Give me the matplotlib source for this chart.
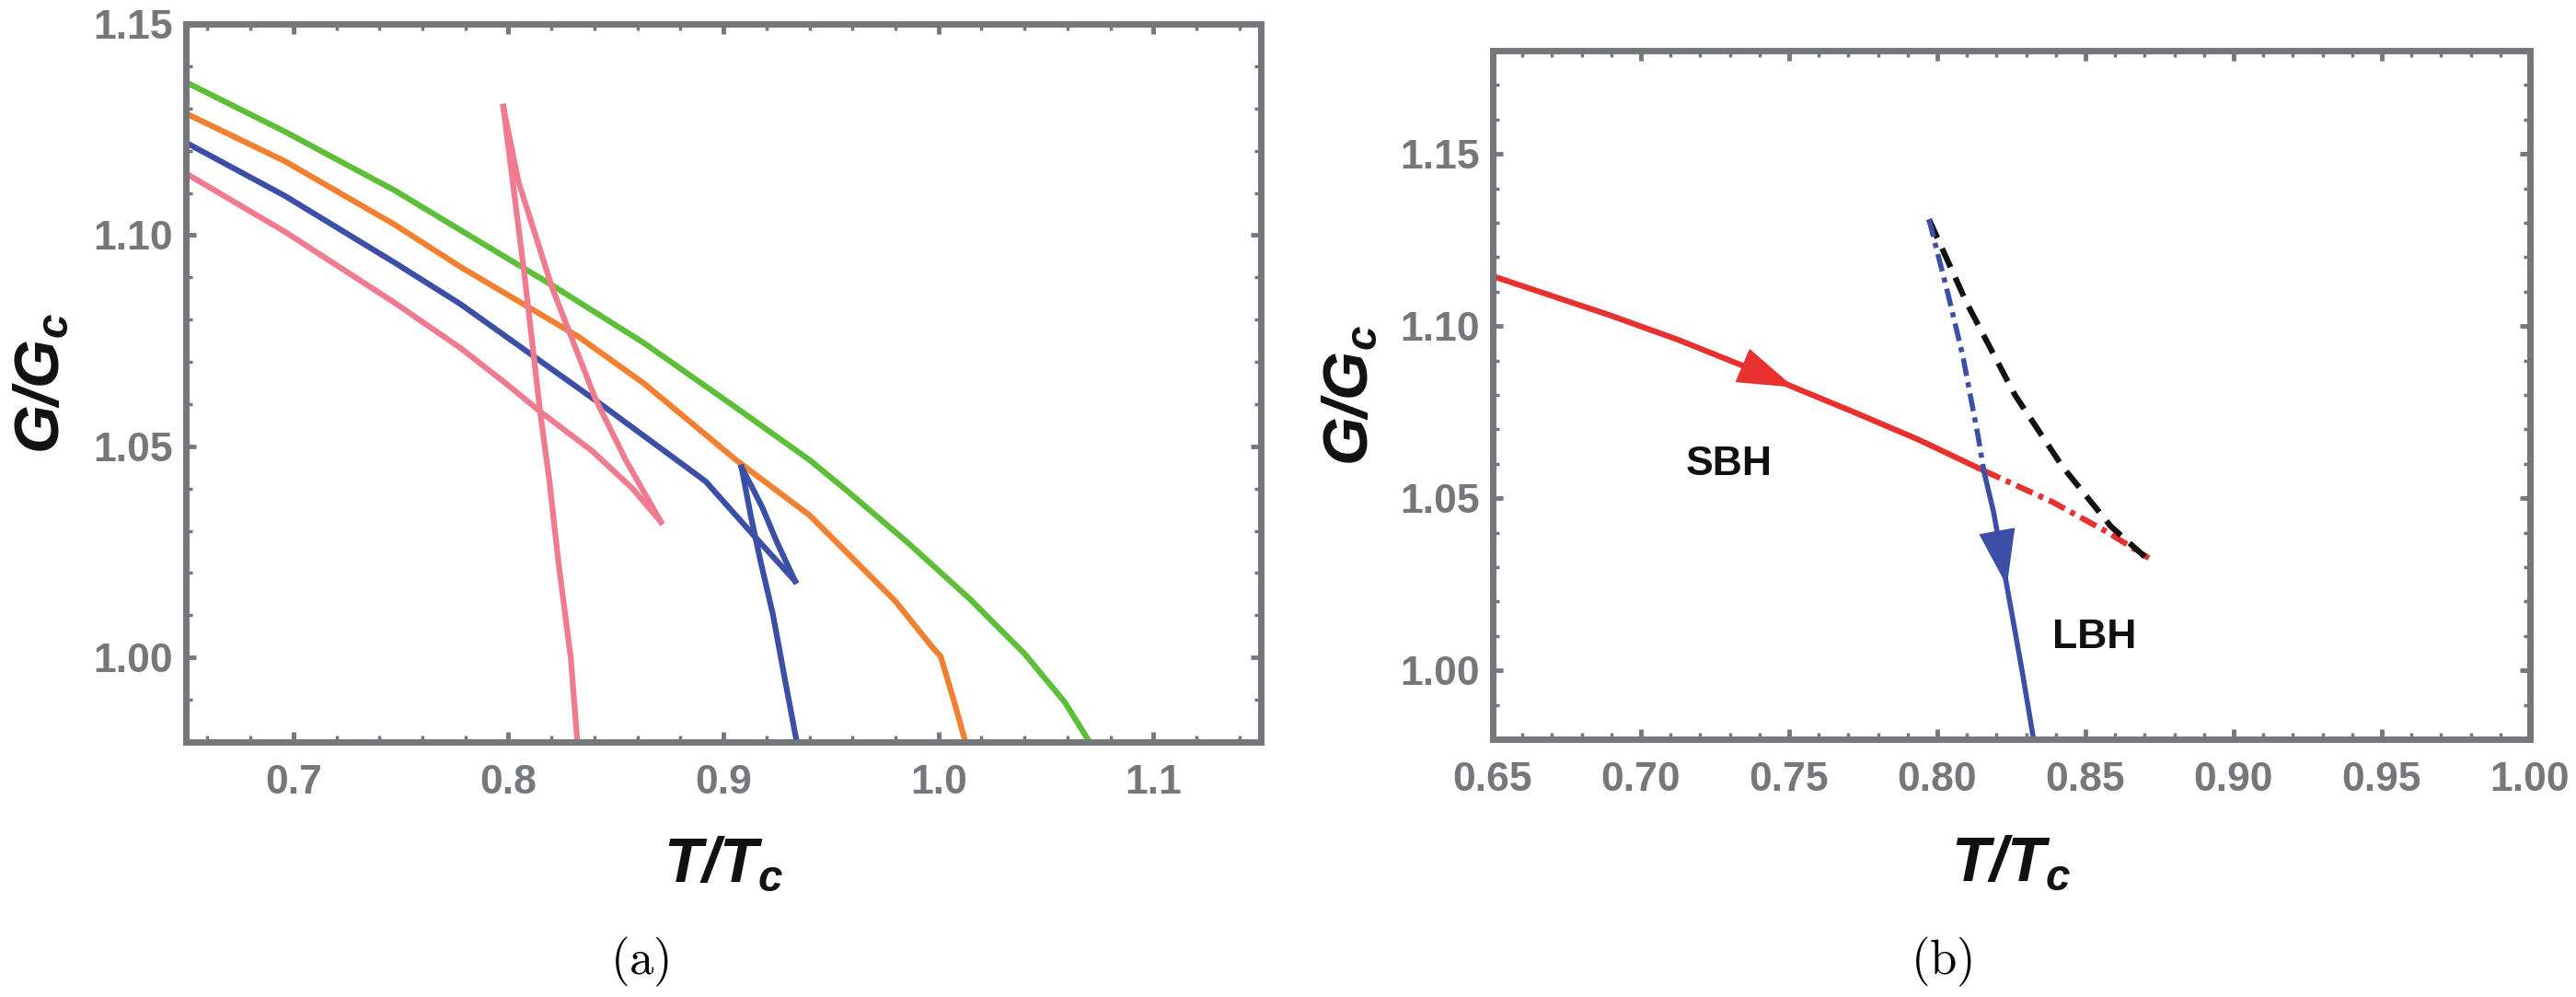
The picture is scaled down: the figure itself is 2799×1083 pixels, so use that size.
import matplotlib
matplotlib.use("Agg")
import matplotlib.pyplot as plt
from matplotlib.ticker import MultipleLocator, FormatStrFormatter

plt.rcParams['font.family'] = ['Liberation Sans', 'DejaVu Sans']
plt.rcParams['mathtext.fontset'] = 'custom'
plt.rcParams['mathtext.rm'] = 'Liberation Sans'
plt.rcParams['mathtext.it'] = 'Liberation Sans:italic'
plt.rcParams['mathtext.bf'] = 'Liberation Sans:bold'
plt.rcParams['mathtext.bfit'] = 'Liberation Sans:italic:bold'
plt.rcParams['lines.scale_dashes'] = False

# ---- panel (a) data ----
green_T = [0.650, 0.696, 0.747, 0.7776, 0.8204, 0.8632, 0.906, 0.9402, 0.9574, 0.9859, 1.0143, 1.040, 1.0588, 1.0695]
green_G = [1.1362, 1.1245, 1.1106, 1.1012, 1.0881, 1.0744, 1.0591, 1.0467, 1.0395, 1.0271, 1.0140, 1.0009, 0.9894, 0.9806]

orange_T = [0.650, 0.696, 0.747, 0.7776, 0.833, 0.8632, 0.906, 0.9402, 0.9616, 0.980, 0.9972, 1.001, 1.0074, 1.0122]
orange_G = [1.1288, 1.1175, 1.1025, 1.0925, 1.0758, 1.0648, 1.0467, 1.0336, 1.0227, 1.0133, 1.0024, 1.0003, 0.9894, 0.9806]

blue_sbh_T = [0.650, 0.696, 0.747, 0.7776, 0.8418, 0.8917, 0.9146, 0.9333]
blue_sbh_G = [1.1219, 1.1093, 1.0935, 1.0837, 1.0604, 1.0417, 1.0286, 1.0181]
blue_mid_T = [0.9333, 0.9247, 0.918, 0.9128, 0.9084]
blue_mid_G = [1.0181, 1.0275, 1.0356, 1.0408, 1.0450]
blue_lbh_T = [0.9084, 0.9128, 0.9172, 0.923, 0.928, 0.934]
blue_lbh_G = [1.0450, 1.0333, 1.0229, 1.0102, 0.9964, 0.9802]

pink_sbh_T = [0.650, 0.696, 0.747, 0.7776, 0.799, 0.8153, 0.8389, 0.8575, 0.8709]
pink_sbh_G = [1.1146, 1.1008, 1.0840, 1.0733, 1.0648, 1.0580, 1.0489, 1.0401, 1.0321]
pink_mid_T = [0.8709, 0.8546, 0.8404, 0.8204, 0.8046, 0.7976]
pink_mid_G = [1.0321, 1.0467, 1.0613, 1.0874, 1.1127, 1.1304]
pink_lbh_T = [0.7976, 0.8075, 0.8147, 0.8190, 0.8232, 0.829, 0.832]
pink_lbh_G = [1.1304, 1.0903, 1.0583, 1.0420, 1.0227, 0.9998, 0.9802]

# ---- panel (b) data ----
red_T = [0.650, 0.689, 0.7126, 0.7358, 0.7516, 0.7705, 0.7937, 0.8157]
red_G = [1.1145, 1.1033, 1.0960, 1.0880, 1.0822, 1.0755, 1.0670, 1.0580]
red_dash_T = [0.8157, 0.8389, 0.8575, 0.8714]
red_dash_G = [1.0580, 1.0489, 1.0401, 1.0326]
bl_dash_T = [0.7972, 0.8036, 0.8087, 0.8138, 0.8157]
bl_dash_G = [1.1310, 1.1094, 1.0910, 1.0679, 1.0580]
bl_T = [0.8157, 0.819, 0.8235, 0.8285, 0.8325]
bl_G = [1.0580, 1.0460, 1.0245, 1.0005, 0.9800]
black_T = [0.7972, 0.810, 0.8262, 0.8424, 0.8586, 0.872]
black_G = [1.1310, 1.1066, 1.0800, 1.0590, 1.0418, 1.0315]

GRAY = '#75777b'
C_GREEN = '#5dbe37'
C_ORANGE = '#f28030'
C_BLUE = '#3b4fa6'
C_PINK = '#f07b8f'
C_RED = '#e8312f'

fig = plt.figure(figsize=(27.99, 10.83), dpi=100)
axa = fig.add_axes([0.0722, 0.2558, 0.4173, 0.7202])
axb = fig.add_axes([0.5795, 0.2586, 0.4026, 0.6906])


def frame(ax, xmaj, xmin, ymaj, ymin, xfmt):
    for s in ax.spines.values():
        s.set_color(GRAY)
        s.set_linewidth(5)
    ax.xaxis.set_major_locator(MultipleLocator(xmaj))
    ax.xaxis.set_minor_locator(MultipleLocator(xmin))
    ax.yaxis.set_major_locator(MultipleLocator(ymaj))
    ax.yaxis.set_minor_locator(MultipleLocator(ymin))
    ax.xaxis.set_major_formatter(FormatStrFormatter(xfmt))
    ax.yaxis.set_major_formatter(FormatStrFormatter('%.2f'))
    ax.tick_params(which='both', direction='in', top=True, right=True, color=GRAY,
                   labelcolor=GRAY, labelsize=32)
    ax.tick_params(which='major', length=8, width=3.5)
    ax.tick_params(which='minor', length=5, width=2.5)
    ax.tick_params(axis='x', pad=17)
    ax.tick_params(axis='y', pad=10)
    for lab in ax.get_xticklabels() + ax.get_yticklabels():
        lab.set_fontweight('bold')


# panel (a)
lw = 4.5
axa.plot(green_T, green_G, color=C_GREEN, lw=lw)
axa.plot(orange_T, orange_G, color=C_ORANGE, lw=lw)
axa.plot(blue_sbh_T, blue_sbh_G, color=C_BLUE, lw=lw)
axa.plot(blue_mid_T, blue_mid_G, color=C_BLUE, lw=lw)
axa.plot(blue_lbh_T, blue_lbh_G, color=C_BLUE, lw=lw)
axa.plot(pink_sbh_T, pink_sbh_G, color=C_PINK, lw=lw)
axa.plot(pink_mid_T, pink_mid_G, color=C_PINK, lw=lw)
axa.plot(pink_lbh_T, pink_lbh_G, color=C_PINK, lw=lw)
axa.set_xlim(0.65, 1.15)
axa.set_ylim(0.98, 1.15)
frame(axa, 0.1, 0.02, 0.05, 0.01, '%.1f')

# panel (b)
axb.plot(red_T, red_G, color=C_RED, lw=4.5, solid_capstyle='butt')
axb.plot(red_dash_T, red_dash_G, color=C_RED, lw=4.5, dashes=(14, 5, 4, 5))
axb.plot(black_T, black_G, color='#111111', lw=4.5, dashes=(16, 9))
axb.plot(bl_dash_T, bl_dash_G, color=C_BLUE, lw=4, dashes=(14, 5, 4, 5))
axb.plot(bl_T, bl_G, color=C_BLUE, lw=4, solid_capstyle='butt')

head = '-|>,head_length=0.8,head_width=0.26'
axb.annotate('', xy=(red_T[4], red_G[4]), xytext=(red_T[3], red_G[3]),
             arrowprops=dict(arrowstyle=head, mutation_scale=52, color=C_RED,
                             lw=1, shrinkA=0, shrinkB=0))
axb.annotate('', xy=(bl_T[2], bl_G[2]), xytext=(bl_T[1], bl_G[1]),
             arrowprops=dict(arrowstyle=head, mutation_scale=52, color=C_BLUE,
                             lw=1, shrinkA=0, shrinkB=0))

axb.text(0.7297, 1.0599, 'SBH', fontsize=32, fontweight='bold', color='#111111',
         ha='center', va='center')
axb.text(0.853, 1.0095, 'LBH', fontsize=32, fontweight='bold', color='#111111',
         ha='center', va='center')
axb.set_xlim(0.65, 1.00)
axb.set_ylim(0.98, 1.18)
frame(axb, 0.05, 0.01, 0.05, 0.01, '%.2f')

for ax, xl, yl in [(axa, -0.131, -0.106), (axb, -0.139, -0.108)]:
    ax.set_xlabel(r'$\mathbfit{T/T_c}$', fontsize=49, color='#111111')
    ax.set_ylabel(r'$\mathbfit{G/G_c}$', fontsize=49, color='#111111')
    ax.xaxis.set_label_coords(0.5, xl)
    ax.yaxis.set_label_coords(yl, 0.5)

fig.text(0.2483, 0.035, r'$\mathrm{(a)}$', math_fontfamily='cm', fontsize=38,
         ha='center', va='center')
fig.text(0.7538, 0.035, r'$\mathrm{(b)}$', math_fontfamily='cm', fontsize=38,
         ha='center', va='center')

fig.savefig('out.png', dpi=100)
